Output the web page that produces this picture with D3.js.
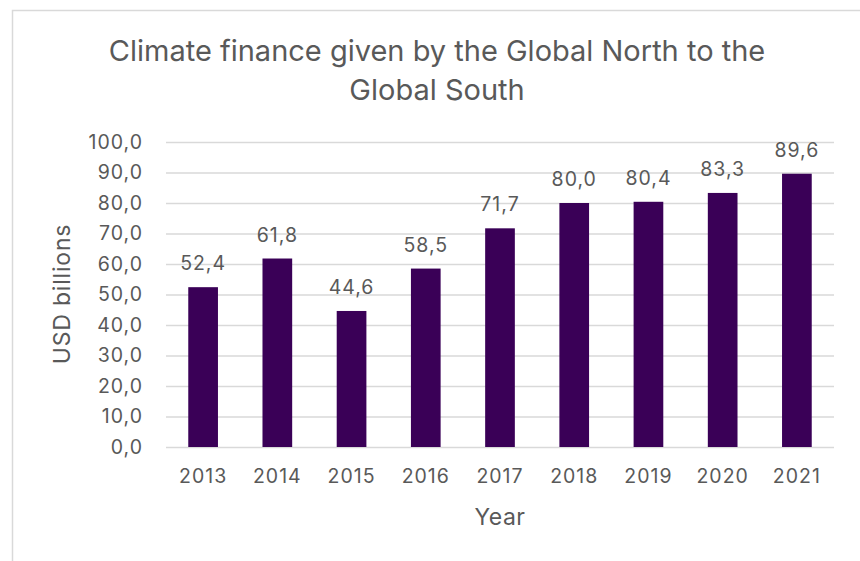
<!DOCTYPE html>
<html>
<head>
<meta charset="utf-8">
<script src="https://cdn.jsdelivr.net/npm/d3@7"></script>
<style>
  body { margin: 0; background: #fff; }
  text { font-family: Inter, "Noto Sans", sans-serif; fill: #595959; }
</style>
</head>
<body>
<svg id="chart" width="860" height="561"></svg>
<script>
// chart data
var years = ['2013', '2014', '2015', '2016', '2017', '2018', '2019', '2020', '2021'];
var finance = [52.4, 61.8, 44.6, 58.5, 71.7, 80.0, 80.4, 83.3, 89.6];
var yTicks = [0, 10, 20, 30, 40, 50, 60, 70, 80, 90, 100];
var titleLines = ['Climate finance given by the Global North to the', 'Global South'];

var svg = d3.select('#chart');
var margin = { left: 166, right: 26, top: 142, bottom: 114 };
var width = 860 - margin.left - margin.right;
var height = 561 - margin.top - margin.bottom;
var font = 'Inter, "Noto Sans", sans-serif';

var comma = function (v) { return d3.format('.1f')(v).replace('.', ','); };

// outer chart frame
svg.append('rect')
  .attr('x', 12.5).attr('y', 10.5)
  .attr('width', 900).attr('height', 600)
  .attr('fill', 'none')
  .attr('stroke', '#d9d9d9')
  .attr('stroke-width', 1.5);

var g = svg.append('g')
  .attr('transform', 'translate(' + margin.left + ',' + margin.top + ')');

var x = d3.scaleBand().domain(years).range([0, width]).paddingInner(0.6).paddingOuter(0.3);
var y = d3.scaleLinear().domain([0, 100]).range([height, 0]);

// gridlines
g.append('g')
  .call(d3.axisLeft(y).tickValues(yTicks).tickSize(-width).tickFormat(''))
  .call(function (s) {
    s.select('.domain').remove();
    s.selectAll('line').attr('stroke', '#d9d9d9').attr('stroke-width', 1.5);
  });

// y tick labels
g.append('g')
  .call(d3.axisLeft(y).tickValues(yTicks).tickSize(0).tickPadding(23).tickFormat(comma))
  .call(function (s) {
    s.select('.domain').remove();
    s.selectAll('text').attr('font-size', 19.5).attr('fill', '#595959')
      .attr('letter-spacing', 1)
      .style('font-family', font);
  });

// bars
g.selectAll('rect.bar')
  .data(finance)
  .enter()
  .append('rect')
  .attr('class', 'bar')
  .attr('x', function (d, i) { return x(years[i]); })
  .attr('y', function (d) { return y(d); })
  .attr('width', x.bandwidth())
  .attr('height', function (d) { return height - y(d); })
  .attr('fill', '#3a0057');

// data labels
g.selectAll('text.val')
  .data(finance)
  .enter()
  .append('text')
  .attr('class', 'val')
  .attr('x', function (d, i) { return x(years[i]) + x.bandwidth() / 2; })
  .attr('y', function (d) { return y(d) - 17; })
  .attr('text-anchor', 'middle')
  .attr('font-size', 19.5)
  .attr('letter-spacing', 1)
  .text(comma);

// x axis labels
g.append('g')
  .attr('transform', 'translate(0,' + height + ')')
  .call(d3.axisBottom(x).tickSize(0).tickPadding(22))
  .call(function (s) {
    s.select('.domain').remove();
    s.selectAll('text').attr('font-size', 19.5).attr('fill', '#595959')
      .attr('letter-spacing', 1)
      .style('font-family', font);
  });

// axis titles
svg.append('text')
  .attr('x', margin.left + width / 2)
  .attr('y', 525)
  .attr('text-anchor', 'middle')
  .attr('font-size', 23)
  .attr('letter-spacing', 0.5)
  .text('Year');

svg.append('text')
  .attr('transform', 'translate(70,294) rotate(-90)')
  .attr('text-anchor', 'middle')
  .attr('font-size', 23)
  .attr('letter-spacing', 0.8)
  .text('USD billions');

// title
svg.append('g').selectAll('text')
  .data(titleLines)
  .enter()
  .append('text')
  .attr('x', 437)
  .attr('y', function (d, i) { return 61 + i * 39; })
  .attr('text-anchor', 'middle')
  .attr('font-size', 29)
  .text(function (d) { return d; });
</script>
</body>
</html>
